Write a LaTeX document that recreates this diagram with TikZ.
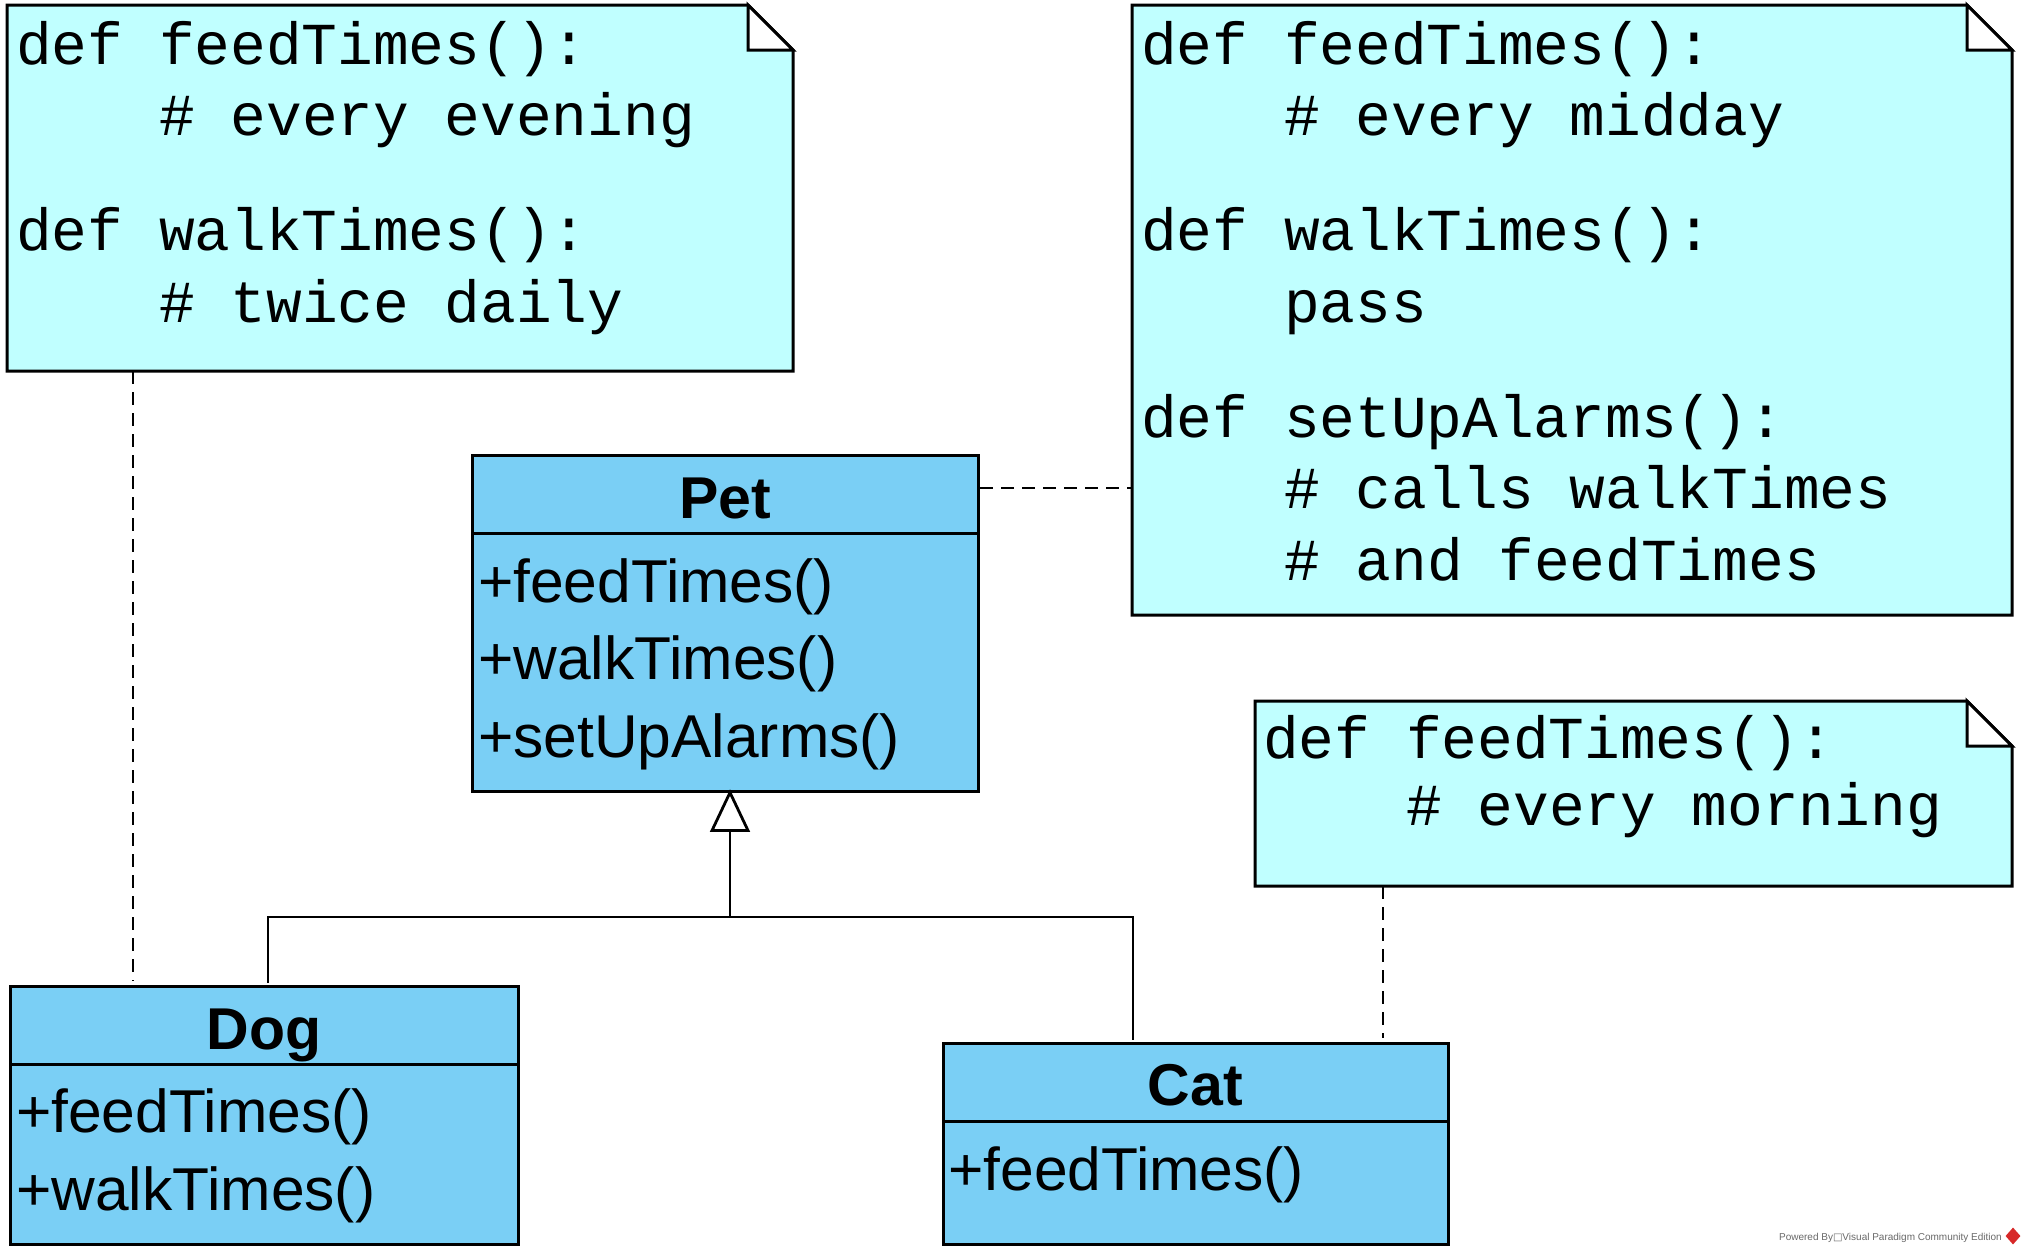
\documentclass[tikz,border=0pt]{standalone}
\usepackage{fontspec}
\setmainfont{Liberation Sans}
\newfontfamily\codefont{Liberation Mono}
\newfontfamily\symfont{DejaVu Sans}
\usetikzlibrary{calc,shapes.geometric}
\definecolor{classfill}{RGB}{122,207,245}
\definecolor{notefill}{RGB}{192,255,255}
\definecolor{wmgray}{RGB}{105,105,105}
\definecolor{wmred}{RGB}{215,40,40}
\newcommand\drawnote[1]{%
  \draw[notebody] (#1.north west) -- ($(#1.north east)+(-45,0)$) -- ($(#1.north east)+(0,45)$) -- (#1.south east) -- (#1.south west) -- cycle;
  \draw[notefold] ($(#1.north east)+(-45,0)$) -- ($(#1.north east)+(-45,45)$) -- ($(#1.north east)+(0,45)$) -- cycle;}
\begin{document}
\begin{tikzpicture}[x=1pt,y=-1pt,
  classbox/.style={draw=black, line width=3pt, fill=classfill, rectangle, inner sep=0pt, outer sep=0pt, anchor=north west},
  noteframe/.style={rectangle, inner sep=0pt, outer sep=0pt, anchor=north west},
  notebody/.style={draw=black, line width=3pt, fill=notefill, line join=miter},
  notefold/.style={draw=black, line width=3pt, fill=white, line join=miter},
  divider/.style={draw=black, line width=3pt},
  classname/.style={font=\fontsize{59}{70}\selectfont\bfseries, anchor=base, inner sep=0pt},
  member/.style={font=\fontsize{60.5}{70}\selectfont, anchor=base west, inner sep=0pt},
  code/.style={font=\codefont\fontsize{59.5}{72}\selectfont, anchor=base west, inner sep=0pt},
  conn/.style={draw=black, line width=2.8pt},
  anchorline/.style={draw=black, line width=2.8pt, dash pattern=on 13pt off 8pt},
]
\useasboundingbox (0,0) rectangle (2025,1254);
\fill[white] (0,0) rectangle (2025,1254);

% notes
\node[noteframe, minimum width=786pt, minimum height=366pt] (n1) at (7,5) {};
\node[noteframe, minimum width=880pt, minimum height=610pt] (n2) at (1132,5) {};
\node[noteframe, minimum width=757pt, minimum height=185pt] (n3) at (1255,701) {};
\drawnote{n1}
\drawnote{n2}
\drawnote{n3}

\node[code] (n1a) at (16,64) {def feedTimes():};
\node[code] (n1b) at (159,135.5) {\# every evening};
\node[code] (n1c) at (16,250.5) {def walkTimes():};
\node[code] (n1d) at (159,322) {\# twice daily};

\node[code] (n2a) at (1141,64) {def feedTimes():};
\node[code] (n2b) at (1284,135.5) {\# every midday};
\node[code] (n2c) at (1141,250.5) {def walkTimes():};
\node[code] (n2d) at (1284,322) {pass};
\node[code] (n2e) at (1141,437) {def setUpAlarms():};
\node[code] (n2f) at (1284,508.5) {\# calls walkTimes};
\node[code] (n2g) at (1284,580) {\# and feedTimes};

\node[code] (n3a) at (1263,758) {def feedTimes():};
\node[code] (n3b) at (1406,825) {\# every morning};

% classes
\node[classbox, minimum width=506pt, minimum height=336pt] (pet) at (472,455) {};
\draw[divider] ($(pet.north west)+(0,78)$) -- ($(pet.north east)+(0,78)$);
\node[classname] (petname) at (725,518) {Pet};
\node[member] (petm1) at (478,602) {+feedTimes()};
\node[member] (petm2) at (478,679.5) {+walkTimes()};
\node[member] (petm3) at (478,757) {+setUpAlarms()};

\node[classbox, minimum width=508pt, minimum height=258pt] (dog) at (10,986) {};
\draw[divider] ($(dog.north west)+(0,78)$) -- ($(dog.north east)+(0,78)$);
\node[classname] (dogname) at (264,1049) {Dog};
\node[member] (dogm1) at (16,1132) {+feedTimes()};
\node[member] (dogm2) at (16,1210) {+walkTimes()};

\node[classbox, minimum width=505pt, minimum height=201pt] (cat) at (943,1043) {};
\draw[divider] ($(cat.north west)+(0,78)$) -- ($(cat.north east)+(0,78)$);
\node[classname] (catname) at (1195.5,1105) {Cat};
\node[member] (catm1) at (948,1190) {+feedTimes()};

% generalization
\coordinate (gentip) at ($(pet.south)+(5,1.5)$);
\coordinate (genbase) at ($(gentip)+(0,38)$);
\coordinate (junction) at ($(gentip)+(0,124.5)$);
\draw[conn] (genbase) -- (junction);
\draw[conn] ($(dog.north)+(4,-3)$) |- (junction) -| ($(cat.north west)+(190,-3)$);
\draw[conn, fill=white, line join=miter] (gentip) -- ++(-18,38) -- ++(36,0) -- cycle;

% note anchors
\draw[anchorline] ($(n1.south west)+(126,0)$) -- ($(dog.north west)+(123,-5)$);
\draw[anchorline] ($(pet.north east)+(2,33)$) -- ($(n2.north west)+(0,483)$);
\draw[anchorline] ($(n3.south west)+(128,0)$) -- ($(cat.north west)+(440,-5)$);

% watermark
\node[anchor=base east, inner sep=0pt, text=wmgray, font=\fontsize{10}{12}\selectfont] (wm) at (2002,1240) {Powered By{\symfont\fontsize{10}{12}\selectfont □}Visual Paradigm Community Edition};
\node[diamond, fill=wmred, inner sep=0pt, minimum width=15pt, minimum height=17pt] (logo) at (2013,1236) {};
\end{tikzpicture}
\end{document}
